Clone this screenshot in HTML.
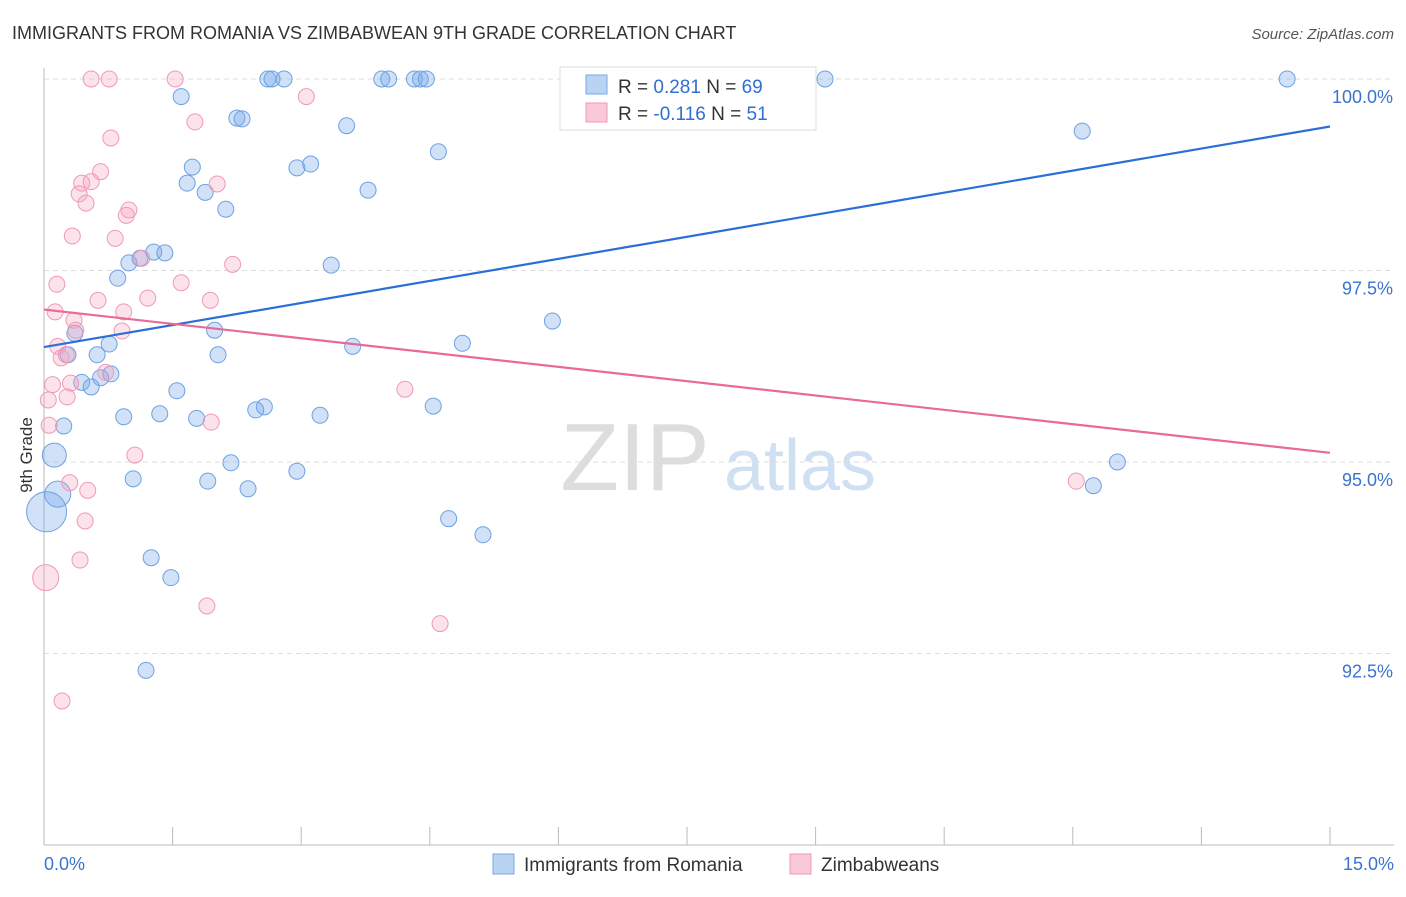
<!DOCTYPE html>
<html><head><meta charset="utf-8"><style>
body{margin:0;background:#fff;font-family:"Liberation Sans",sans-serif}
svg text{font-family:"Liberation Sans",sans-serif}
</style></head><body>
<svg id="chart" width="1406" height="892" viewBox="0 0 1406 892" xmlns="http://www.w3.org/2000/svg">
<text x="12" y="39" font-size="18" fill="#333">IMMIGRANTS FROM ROMANIA VS ZIMBABWEAN 9TH GRADE CORRELATION CHART</text>
<text x="1394" y="39" font-size="15" fill="#555" font-style="italic" text-anchor="end">Source: ZipAtlas.com</text>
<text x="32" y="455" font-size="17" fill="#333" text-anchor="middle" transform="rotate(-90 32 455)">9th Grade</text>
<g><text x="635" y="490" font-size="96" fill="#ddd" font-family="Liberation Serif" text-anchor="middle">ZIP</text><text x="800" y="490" font-size="72" fill="#d0e0f3" text-anchor="middle">atlas</text></g>
<g id="grid"></g><g id="axes"></g><g id="pts"></g><g id="lines"></g>
<g>
<rect x="560" y="67" width="256" height="63" fill="#fff" stroke="#ddd"/>
<rect x="586" y="75" width="21" height="19" fill="#b9d3f3" stroke="#7aaae0"/>
<text x="618" y="93" font-size="19" fill="#333">R = <tspan fill="#2f6fd1"> 0.281</tspan>   N = <tspan fill="#2f6fd1">69</tspan></text>
<rect x="586" y="103" width="21" height="19" fill="#f9c9d8" stroke="#ee9ab5"/>
<text x="618" y="120" font-size="19" fill="#333">R = <tspan fill="#2f6fd1">-0.116</tspan>   N = <tspan fill="#2f6fd1"> 51</tspan></text>
</g>
<g>
<rect x="493" y="854" width="21" height="20" fill="#b9d3f3" stroke="#7aaae0"/>
<text x="524" y="871" font-size="19" fill="#333">Immigrants from Romania</text>
<rect x="790" y="854" width="21" height="20" fill="#f9c9d8" stroke="#ee9ab5"/>
<text x="821" y="871" font-size="19" fill="#333">Zimbabweans</text>
</g>
</svg>
<script>
const yTicks=[100,97.5,95,92.5];
const yTickLabels=["100.0%","97.5%","95.0%","92.5%"];
const xTickVals=[0,1.5,3,4.5,6,7.5,9,10.5,12,13.5,15];
const blueX=[2.61,2.66,2.80,3.94,4.02,4.32,4.39,4.46,6.37,9.11,14.50,1.60,2.25,2.31,3.53,12.11,4.60,1.73,2.95,3.11,1.67,1.88,3.78,2.12,1.28,1.41,1.12,0.99,3.35,0.86,5.93,0.36,1.99,0.76,3.60,4.88,0.28,0.62,2.03,0.78,0.66,0.44,0.55,1.55,2.57,2.47,4.54,0.93,1.35,1.78,3.22,0.23,0.12,2.18,12.52,2.95,1.04,1.91,2.38,12.24,0.16,0.03,4.72,5.12,1.25,1.48,1.19];
const blueY=[100,100,100,100,100,100,100,100,100,100,100,99.77,99.49,99.48,99.39,99.32,99.05,98.85,98.84,98.89,98.64,98.52,98.55,98.30,97.74,97.73,97.66,97.60,97.57,97.40,96.84,96.68,96.72,96.54,96.51,96.55,96.40,96.40,96.40,96.15,96.10,96.04,95.98,95.93,95.72,95.68,95.73,95.59,95.63,95.57,95.61,95.47,95.09,94.99,95.00,94.88,94.78,94.75,94.65,94.69,94.58,94.35,94.26,94.05,93.75,93.49,92.28];
const blueR=[8,8,8,8,8,8,8,8,8,8,8,8,8,8,8,8,8,8,8,8,8,8,8,8,8,8,8,8,8,8,8,8,8,8,8,8,8,8,8,8,8,8,8,8,8,8,8,8,8,8,8,8,12,8,8,8,8,8,8,8,13,20,8,8,8,8,8];
const pinkX=[0.55,0.76,1.53,3.06,1.76,0.78,0.66,0.44,0.55,0.41,0.49,2.02,0.99,0.96,0.33,0.83,1.14,2.20,0.15,1.60,0.63,1.21,1.94,0.13,0.93,0.35,0.37,0.91,0.16,0.20,0.26,0.72,0.10,0.31,0.05,0.27,4.21,1.95,0.06,1.06,0.30,0.51,12.04,0.48,0.42,0.02,1.90,4.62,0.21];
const pinkY=[100,100,100,99.77,99.44,99.23,98.79,98.64,98.66,98.50,98.38,98.63,98.29,98.22,97.95,97.92,97.66,97.58,97.32,97.34,97.11,97.14,97.11,96.96,96.96,96.85,96.72,96.71,96.51,96.36,96.40,96.17,96.01,96.03,95.81,95.85,95.95,95.52,95.48,95.09,94.73,94.63,94.75,94.23,93.72,93.49,93.12,92.89,91.88];
const blueTrend=[96.5,99.38];
const pinkTrend=[96.99,95.12];
const X=v=>44+v*(1286/15);
const Y=v=>79+(100-v)*76.6;
const NS="http://www.w3.org/2000/svg";
function mk(tag,attrs,parent){const e=document.createElementNS(NS,tag);for(const k in attrs)e.setAttribute(k,attrs[k]);parent.appendChild(e);return e;}
const grid=document.getElementById('grid'),axes=document.getElementById('axes'),pts=document.getElementById('pts'),lines=document.getElementById('lines');
yTicks.forEach((t,i)=>{
 const l=mk('line',{x1:44,x2:1394,y1:Y(t),y2:Y(t),stroke:'#ddd','stroke-dasharray':'5,4'},grid);
 
 
 const tx=mk('text',{x:1393,y:Y(t)+24,'font-size':18,fill:'#3b74cf','text-anchor':'end'},axes);
 tx.textContent=yTickLabels[i];
 
 
});
const ax=mk('line',{x1:44,x2:44,y1:68,y2:845,stroke:'#bbb'},axes);


const bx=mk('line',{x1:44,x2:1394,y1:845,y2:845,stroke:'#bbb'},axes);


xTickVals.forEach(t=>{
 const l=mk('line',{x1:X(t),x2:X(t),y1:827,y2:845,stroke:'#bbb'},axes);
 
 
});
const xl0=mk('text',{x:44,y:870,'font-size':18,fill:'#3b74cf'},axes);xl0.textContent='0.0%';


const xl1=mk('text',{x:1394,y:870,'font-size':18,fill:'#3b74cf','text-anchor':'end'},axes);xl1.textContent='15.0%';


blueX.forEach((x,i)=>{
 const c=mk('circle',{cx:X(x),cy:Y(blueY[i]),r:blueR[i],fill:'rgba(120,170,235,0.35)',stroke:'#6fa2e0','stroke-width':1},pts);
 
 
});
pinkX.forEach((x,i)=>{
 const c=mk('circle',{cx:X(x),cy:Y(pinkY[i]),r:(i==45?13:8),fill:'rgba(245,160,190,0.3)',stroke:'#ef9ab6','stroke-width':1},pts);
 
 
});
const bl=mk('line',{x1:X(0),y1:Y(blueTrend[0]),x2:X(15),y2:Y(blueTrend[1]),stroke:'#2b6fd6','stroke-width':2.2},lines);


const pl=mk('line',{x1:X(0),y1:Y(pinkTrend[0]),x2:X(15),y2:Y(pinkTrend[1]),stroke:'#e8699a','stroke-width':2.2},lines);


</script>
</body></html>
